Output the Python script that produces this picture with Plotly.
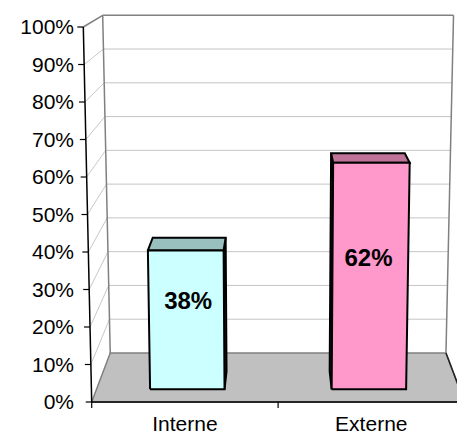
import plotly.graph_objects as go

# ---------------- data ----------------
categories = ["Interne", "Externe"]
values = [38, 62]
y_ticks = [0, 10, 20, 30, 40, 50, 60, 70, 80, 90, 100]
y_tick_labels = [f"{t}%" for t in y_ticks]

# ---------------- styles ----------------
front_colors = ["#CCFFFF", "#FF99CC"]
top_colors = ["#99BFBF", "#BF7399"]
side_colors = ["#668080", "#804D66"]
FONT = "Liberation Sans, Arial, sans-serif"

# ---------------- pseudo-3D projection (data units) ----------------
CX = 1.0        # horizontal vanishing centre (category units)
CY = 131.5      # depth vanishing point (value units, above the plot)
K = 0.1104      # depth foreshortening
BETA = 0.00045  # slight convergence of vertical edges
Z_FRONT, Z_BACK = 0.24, 0.60
HALF_W = 0.205
N = len(categories)


def proj(u, v, z):
    f = 1.0 / (1.0 + K * z)
    xf = CX + (u - CX) * (1.0 + BETA * v)
    return CX + (xf - CX) * f, CY + (v - CY) * f


def poly(pts):
    xs, ys = [], []
    for p in pts:
        x, y = proj(*p)
        xs.append(x)
        ys.append(y)
    return xs, ys


def segs(pairs):
    xs, ys = [], []
    for a, b in pairs:
        x0, y0 = proj(*a)
        x1, y1 = proj(*b)
        xs += [x0, x1, None]
        ys += [y0, y1, None]
    return xs, ys


fig = go.Figure()


def add_lines(pairs, color, width):
    xs, ys = segs(pairs)
    fig.add_trace(go.Scatter(x=xs, y=ys, mode="lines",
                             line=dict(color=color, width=width),
                             hoverinfo="skip", showlegend=False))


def add_poly(pts, fill, line_color, width):
    xs, ys = poly(pts)
    fig.add_trace(go.Scatter(x=xs, y=ys, mode="lines", fill="toself",
                             fillcolor=fill, line=dict(color=line_color, width=width),
                             hoverinfo="skip", showlegend=False))


grid_vals = [t for t in y_ticks if 0 < t < 100]

# back-wall gridlines
add_lines([((0, v, 1), (N, v, 1)) for v in grid_vals], "#C4C4C4", 1)
# side-wall gridlines
add_lines([((0, v, 0), (0, v, 1)) for v in grid_vals], "#C8C8C8", 1)

# floor
add_poly([(0, 0, 0), (N, 0, 0), (N, 0, 1), (0, 0, 1), (0, 0, 0)], "#C0C0C0", "#808080", 1.5)
add_lines([((N, 0, 1), (N, 0, 0))], "#202020", 1.5)

# wall outlines
add_lines([((0, 0, 1), (0, 100, 1)), ((0, 100, 1), (N, 100, 1)),
           ((N, 100, 1), (N, 0, 1)), ((0, 100, 0), (0, 100, 1))], "#808080", 1.5)

# front value axis + ticks
TICK_U = 6 / 186.4
TICK_V = 6 / 3.75
add_lines([((0, 0, 0), (0, 100, 0))], "black", 1.5)
tx, ty = [], []
for v in y_ticks:
    x, y = proj(0, v, 0)
    tx += [x - TICK_U, x, None]
    ty += [y, y, None]
fig.add_trace(go.Scatter(x=tx, y=ty, mode="lines", line=dict(color="black", width=1.2),
                         hoverinfo="skip", showlegend=False))

# category axis + ticks
add_lines([((0, 0, 0), (N, 0, 0))], "black", 1.5)
cx_, cy_ = [], []
for i in range(N + 1):
    x, y = proj(i, 0, 0)
    cx_ += [x, x, None]
    cy_ += [y, y - TICK_V, None]
fig.add_trace(go.Scatter(x=cx_, y=cy_, mode="lines", line=dict(color="black", width=1.2),
                         hoverinfo="skip", showlegend=False))

# bars
for i, (cat, v) in enumerate(zip(categories, values)):
    c = i + 0.5
    l, r = c - HALF_W, c + HALF_W
    if r < CX:
        side = [(r, 0, Z_FRONT), (r, v, Z_FRONT), (r, v, Z_BACK), (r, 0, Z_BACK), (r, 0, Z_FRONT)]
    else:
        side = [(l, 0, Z_FRONT), (l, v, Z_FRONT), (l, v, Z_BACK), (l, 0, Z_BACK), (l, 0, Z_FRONT)]
    add_poly(side, side_colors[i], "black", 2)
    add_poly([(l, v, Z_FRONT), (r, v, Z_FRONT), (r, v, Z_BACK), (l, v, Z_BACK), (l, v, Z_FRONT)],
             top_colors[i], "black", 2)
    add_poly([(l, 0, Z_FRONT), (r, 0, Z_FRONT), (r, v, Z_FRONT), (l, v, Z_FRONT), (l, 0, Z_FRONT)],
             front_colors[i], "black", 2)
    lx, ly = proj(c, v / 2 + 2.5, (Z_FRONT + Z_BACK) / 2)
    fig.add_trace(go.Scatter(x=[lx], y=[ly], mode="text", text=[f"{v}%"],
                             textposition="middle center",
                             textfont=dict(family=FONT, size=24, color="black", weight="bold"),
                             hoverinfo="skip", showlegend=False))

# ---------------- layout ----------------
L_MARGIN = 72
U_LEFT = (L_MARGIN - 91.7) / 186.4
U_RIGHT = U_LEFT + (457 - L_MARGIN) / 186.4

fig.update_layout(
    width=457, height=434,
    margin=dict(l=L_MARGIN, r=0, t=14, b=25, autoexpand=False),
    paper_bgcolor="white", plot_bgcolor="white",
    showlegend=False,
    xaxis=dict(range=[U_LEFT, U_RIGHT], showgrid=False, zeroline=False, showline=False,
               automargin=False,
               tickmode="array", tickvals=[i + 0.5 for i in range(N)], ticktext=categories,
               ticks="", tickfont=dict(family=FONT, size=21, color="black"),
               ticklabelstandoff=0),
    yaxis=dict(range=[-1.867, 103.47], showgrid=False, zeroline=False, showline=False,
               automargin=False,
               tickmode="array", tickvals=y_ticks, ticktext=y_tick_labels,
               ticks="", tickfont=dict(family=FONT, size=21, color="black"),
               anchor="free", position=(74 - L_MARGIN) / (457 - L_MARGIN)),
)

fig.write_html("out.html")
